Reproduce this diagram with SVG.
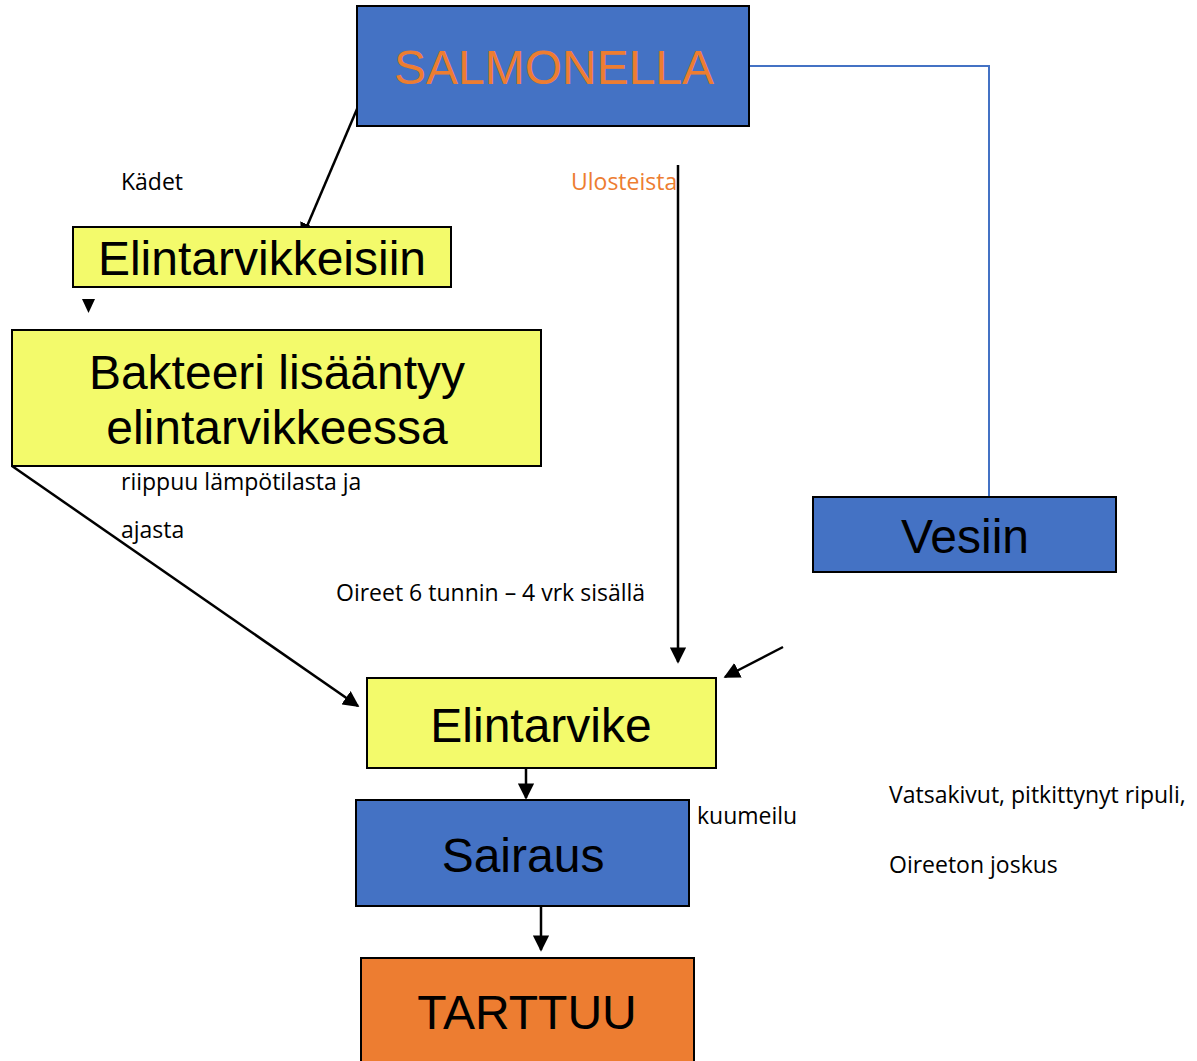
<svg xmlns="http://www.w3.org/2000/svg" width="1197" height="1061" viewBox="0 0 1197 1061">
<defs>
<style>
.blue{fill:#4472C4;stroke:#000;stroke-width:2}
.yel{fill:#F3FA6B;stroke:#000;stroke-width:2}
.org{fill:#ED7D31;stroke:#000;stroke-width:2}
.big{font-family:"Liberation Sans",Arial,sans-serif;font-size:48px;fill:#000;text-anchor:middle}
.sm{font-family:"Open Sans","Liberation Sans",sans-serif;font-size:23px;fill:#000}
.ln{stroke:#000;stroke-width:2.5;fill:none}
</style>
<marker id="ah2" viewBox="0 0 10 10" refX="9" refY="5" markerWidth="6.5" markerHeight="6.5" orient="auto">
<path d="M0,0 L10,5 L0,10 z" fill="#000"/>
</marker>
</defs>
<g id="connectors">
<line class="ln" x1="360" y1="102" x2="302" y2="238" marker-end="url(#ah2)"/>
<path d="M82,299 L95,299 L88.5,313 z" fill="#000"/>
<line class="ln" x1="12" y1="466" x2="358" y2="706" marker-end="url(#ah2)"/>
<line class="ln" x1="678" y1="165" x2="678" y2="662" marker-end="url(#ah2)"/>
<line class="ln" x1="783" y1="647" x2="725" y2="677" marker-end="url(#ah2)"/>
<line class="ln" x1="526" y1="768" x2="526" y2="798" marker-end="url(#ah2)"/>
<line class="ln" x1="541" y1="906" x2="541" y2="950" marker-end="url(#ah2)"/>
<polyline points="750,66 989,66 989,497" fill="none" stroke="#4472C4" stroke-width="2"/>
</g>
<g id="salmonella">
<rect class="blue" x="357" y="6" width="392" height="120"/>
<text class="big" x="554" y="84" style="fill:#ED7D31">SALMONELLA</text>
</g>
<g id="elintarvikkeisiin">
<rect class="yel" x="73" y="227" width="378" height="60"/>
<text class="big" x="262" y="275">Elintarvikkeisiin</text>
</g>
<g id="bakteeri">
<rect class="yel" x="12" y="330" width="529" height="136"/>
<text class="big" x="277" y="389">Bakteeri lisääntyy</text>
<text class="big" x="277" y="444">elintarvikkeessa</text>
</g>
<g id="vesiin">
<rect class="blue" x="813" y="497" width="303" height="75"/>
<text class="big" x="965" y="553">Vesiin</text>
</g>
<g id="elintarvike">
<rect class="yel" x="367" y="678" width="349" height="90"/>
<text class="big" x="541" y="742">Elintarvike</text>
</g>
<g id="sairaus">
<rect class="blue" x="356" y="800" width="333" height="106"/>
<text class="big" x="523" y="872">Sairaus</text>
</g>
<g id="tarttuu">
<rect class="org" x="361" y="958" width="333" height="110"/>
<text class="big" x="527" y="1029">TARTTUU</text>
</g>
<g id="labels">
<text class="sm" x="121" y="190">Kädet</text>
<text class="sm" x="571" y="190" style="fill:#ED7D31">Ulosteista</text>
<text class="sm" x="121" y="490">riippuu lämpötilasta ja</text>
<text class="sm" x="121" y="538">ajasta</text>
<text class="sm" x="336" y="601">Oireet 6 tunnin – 4 vrk sisällä</text>
<text class="sm" x="697" y="824">kuumeilu</text>
<text class="sm" x="889" y="803">Vatsakivut, pitkittynyt ripuli,</text>
<text class="sm" x="889" y="873">Oireeton joskus</text>
</g>
</svg>
